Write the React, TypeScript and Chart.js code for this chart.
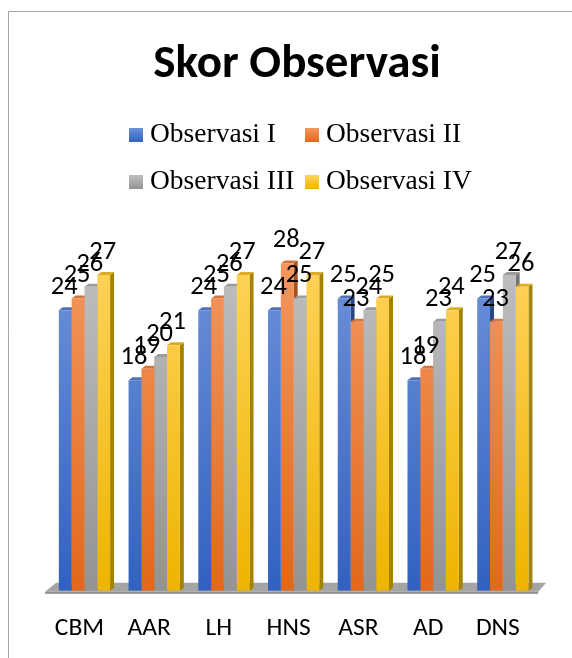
import React, { useEffect, useRef } from "react";
import { Chart, registerables } from "chart.js";

Chart.register(...registerables);

const chartTitle = "Skor Observasi";
const categories = ["CBM", "AAR", "LH", "HNS", "ASR", "AD", "DNS"];
const seriesNames = ["Observasi I", "Observasi II", "Observasi III", "Observasi IV"];
const obs1 = [24, 18, 24, 24, 25, 18, 25];
const obs2 = [25, 19, 25, 28, 23, 19, 23];
const obs3 = [26, 20, 26, 25, 24, 23, 27];
const obs4 = [27, 21, 27, 27, 25, 24, 26];
const yMax = 30;

const palette = [
  { light: "#6d92d9", dark: "#3161c1", top: "#4d70b6", side: "#2b4784" },
  { light: "#f4975f", dark: "#e2681a", top: "#d4743c", side: "#a5501a" },
  { light: "#bfbfbf", dark: "#939393", top: "#9c9c9c", side: "#747474" },
  { light: "#ffd35a", dark: "#eeb400", top: "#ddac24", side: "#a48300" },
];

const DX = 4;
const DY = 3;
const SANS = "Carlito, Calibri, Lato, sans-serif";
const SERIF = "'Liberation Serif', 'Times New Roman', serif";

const threeDPlugin = {
  id: "threeD",
  beforeDraw(chart: any) {
    const ctx = chart.ctx;
    ctx.save();
    ctx.fillStyle = "#ffffff";
    ctx.fillRect(0, 0, chart.width, chart.height);
    ctx.strokeStyle = "#a6a6a6";
    ctx.lineWidth = 1;
    ctx.beginPath();
    ctx.moveTo(8.5, chart.height);
    ctx.lineTo(8.5, 11.5);
    ctx.lineTo(chart.width, 11.5);
    ctx.stroke();

    // title
    ctx.fillStyle = "#000000";
    ctx.font = `bold 47px ${SANS}`;
    ctx.textAlign = "center";
    ctx.textBaseline = "alphabetic";
    ctx.fillText(chartTitle, 297, 77);

    // legend (two columns)
    const cols = [129, 305];
    const rows = [142, 189];
    ctx.font = `27.5px ${SERIF}`;
    ctx.textAlign = "left";
    chart.data.datasets.forEach((ds: any, i: number) => {
      const bx = cols[i % 2];
      const by = rows[Math.floor(i / 2)];
      const g = ctx.createLinearGradient(0, by - 14, 0, by);
      g.addColorStop(0, palette[i].light);
      g.addColorStop(1, palette[i].dark);
      ctx.fillStyle = g;
      ctx.fillRect(bx, by - 14, 14, 14);
      ctx.fillStyle = "#000000";
      ctx.fillText(ds.label, bx + 21, by);
    });
    ctx.restore();
  },
  beforeDatasetsDraw(chart: any) {
    const ctx = chart.ctx;
    const { left, right, bottom } = chart.chartArea;
    ctx.save();
    // floor slab
    ctx.fillStyle = "#a4a4a4";
    ctx.beginPath();
    ctx.moveTo(left + 6.5, bottom - 8);
    ctx.lineTo(right + 8.5, bottom - 8);
    ctx.lineTo(right + 0.5, bottom + 1);
    ctx.lineTo(left - 4.5, bottom + 1);
    ctx.closePath();
    ctx.fill();
    ctx.fillStyle = "#8c8c8c";
    ctx.fillRect(left - 4.5, bottom + 1, right - left + 5, 2);

    const metas = chart.data.datasets.map((_: any, i: number) => chart.getDatasetMeta(i));
    // side faces
    metas.forEach((meta: any, di: number) => {
      meta.data.forEach((el: any) => {
        const x1 = el.x + el.width / 2;
        ctx.fillStyle = palette[di].side;
        ctx.beginPath();
        ctx.moveTo(x1, el.y);
        ctx.lineTo(x1 + DX, el.y - DY);
        ctx.lineTo(x1 + DX, el.base - DY);
        ctx.lineTo(x1, el.base);
        ctx.closePath();
        ctx.fill();
      });
    });
    // top faces
    metas.forEach((meta: any, di: number) => {
      meta.data.forEach((el: any) => {
        const x0 = el.x - el.width / 2;
        const x1 = el.x + el.width / 2;
        ctx.fillStyle = palette[di].top;
        ctx.beginPath();
        ctx.moveTo(x0, el.y);
        ctx.lineTo(x1, el.y);
        ctx.lineTo(x1 + DX, el.y - DY);
        ctx.lineTo(x0 + DX, el.y - DY);
        ctx.closePath();
        ctx.fill();
      });
    });
    ctx.restore();
  },
  afterDatasetsDraw(chart: any) {
    const ctx = chart.ctx;
    ctx.save();
    ctx.fillStyle = "#000000";
    ctx.font = `26.5px ${SANS}`;
    ctx.textAlign = "center";
    ctx.textBaseline = "alphabetic";
    chart.data.datasets.forEach((ds: any, di: number) => {
      const meta = chart.getDatasetMeta(di);
      meta.data.forEach((el: any, i: number) => {
        ctx.fillText(String(ds.data[i]), el.x - 1, el.y - 16);
      });
    });
    // category labels
    const xs = chart.scales.x;
    ctx.font = `25.5px ${SANS}`;
    ctx.textBaseline = "alphabetic";
    chart.data.labels.forEach((lab: string, i: number) => {
      ctx.fillText(lab, xs.getPixelForValue(i) - 5, 635);
    });
    ctx.restore();
  },
};

export default function App() {
  const ref = useRef<HTMLCanvasElement | null>(null);
  useEffect(() => {
    document.body.style.margin = "0";
    document.body.style.overflow = "hidden";
    const canvas = ref.current;
    if (!canvas) return;
    const series = [obs1, obs2, obs3, obs4];
    const chart = new Chart(canvas, {
      type: "bar",
      data: {
        labels: categories,
        datasets: series.map((d, i) => ({
          label: seriesNames[i],
          data: d,
          backgroundColor: (c: any) => {
            const area = c.chart.chartArea;
            if (!area) return palette[i].dark;
            const g = c.chart.ctx.createLinearGradient(0, area.top + 20, 0, area.bottom);
            g.addColorStop(0, palette[i].light);
            g.addColorStop(1, palette[i].dark);
            return g;
          },
          borderWidth: 0,
          categoryPercentage: 0.735,
          barPercentage: 1.0,
        })),
      },
      options: {
        responsive: false,
        animation: false,
        devicePixelRatio: 1,
        layout: { padding: { left: 49.6, right: 34.3, top: 240, bottom: 67.2 } },
        plugins: {
          legend: { display: false },
          title: { display: false },
          tooltip: { enabled: false },
        },
        scales: {
          x: { display: false },
          y: { display: false, min: 0, max: yMax },
        },
      },
      plugins: [threeDPlugin],
    });
    return () => chart.destroy();
  }, []);
  return (
    <div style={{ width: 572, height: 658, position: "relative" }}>
      <canvas ref={ref} width={572} height={658} style={{ display: "block" }} />
    </div>
  );
}
